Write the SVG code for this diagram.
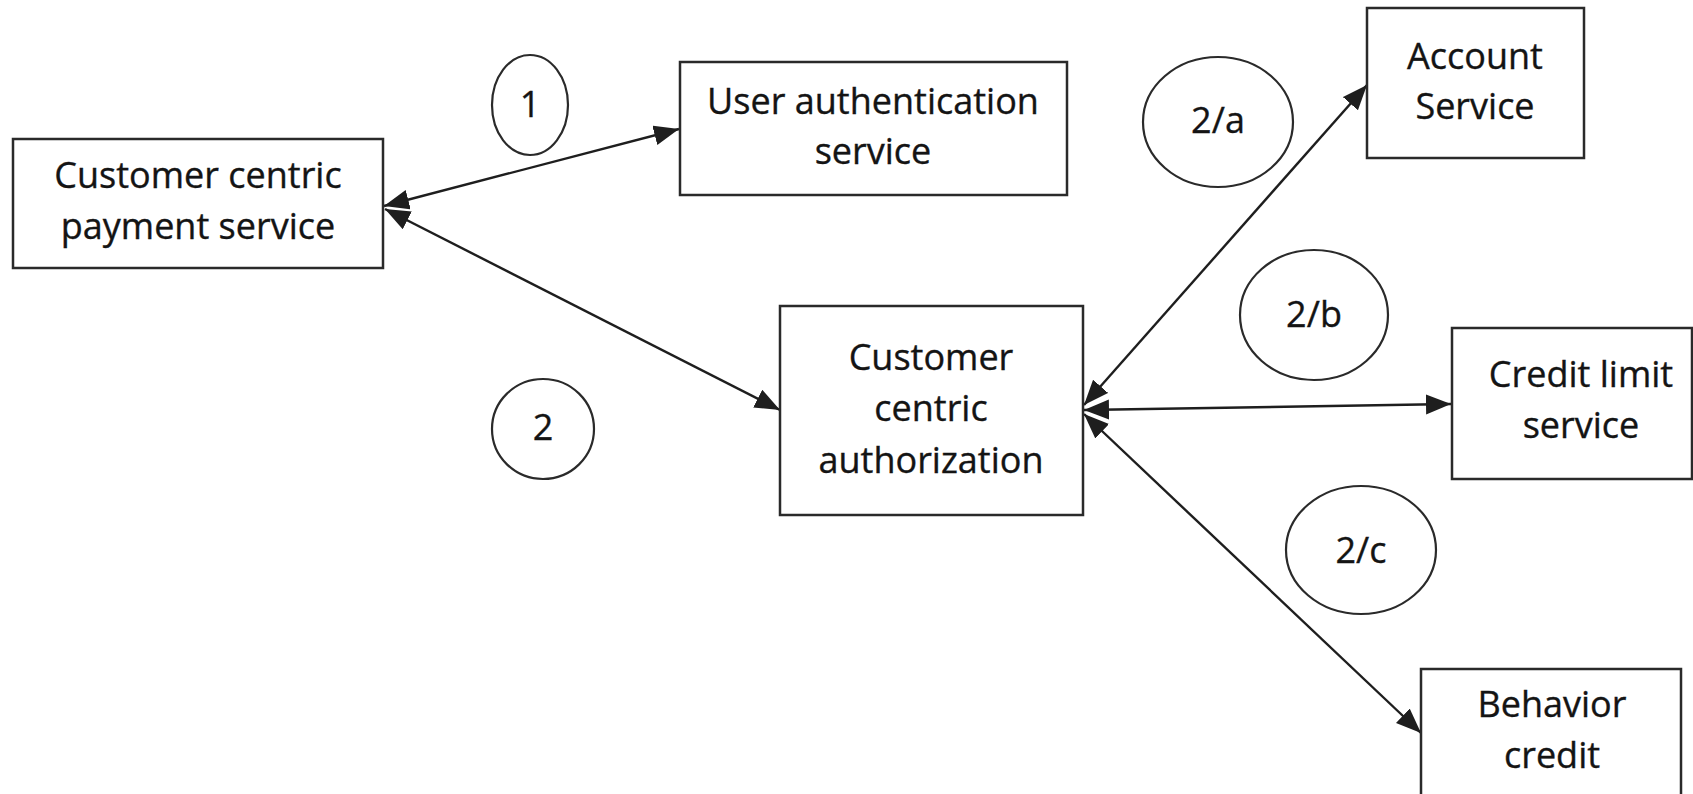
<svg xmlns="http://www.w3.org/2000/svg" width="1693" height="794" viewBox="0 0 1693 794">
  <style>
    .box { fill: #ffffff; stroke: #2a2a2a; stroke-width: 2.5; }
    .tag { fill: none; stroke: #2a2a2a; stroke-width: 2.2; }
    .label { font-family: "Open Sans", "Noto Sans", sans-serif; font-size: 36px; fill: #141414; stroke: #141414; stroke-width: 0.35; text-anchor: middle; }
    .link { stroke: #1e1e1e; stroke-width: 2.4; fill: none; marker-start: url(#head); marker-end: url(#head); }
  </style>
  <defs>
    <!-- filled triangular head, reused at both ends of every link -->
    <marker id="head" markerUnits="userSpaceOnUse" markerWidth="28" markerHeight="22" refX="25" refY="10" orient="auto-start-reverse" viewBox="0 0 28 22">
      <path d="M0,0 L25,10 L0,20 z" fill="#1e1e1e"/>
    </marker>
  </defs>
  <rect width="1693" height="794" fill="#ffffff"/>

  <!-- connectors -->
  <g id="connectors">
    <line class="link" x1="384" y1="206" x2="679" y2="129"/>
    <line class="link" x1="385" y1="209" x2="780" y2="410"/>
    <line class="link" x1="1084" y1="405" x2="1367" y2="85"/>
    <line class="link" x1="1084" y1="410" x2="1451" y2="404"/>
    <line class="link" x1="1084" y1="414" x2="1421" y2="733"/>
  </g>

  <!-- step markers -->
  <g id="step-1">
    <ellipse class="tag" cx="530" cy="105" rx="38" ry="50"/>
    <text class="label" x="530" y="117">1</text>
  </g>
  <g id="step-2">
    <ellipse class="tag" cx="543" cy="429" rx="51" ry="50"/>
    <text class="label" x="543" y="440">2</text>
  </g>
  <g id="step-2a">
    <ellipse class="tag" cx="1218" cy="122" rx="75" ry="65"/>
    <text class="label" x="1218" y="133">2/a</text>
  </g>
  <g id="step-2b">
    <ellipse class="tag" cx="1314" cy="315" rx="74" ry="65"/>
    <text class="label" x="1314" y="327">2/b</text>
  </g>
  <g id="step-2c">
    <ellipse class="tag" cx="1361" cy="550" rx="75" ry="64"/>
    <text class="label" x="1361" y="563">2/c</text>
  </g>

  <!-- services -->
  <g id="payment-service">
    <rect class="box" x="13" y="139" width="370" height="129"/>
    <text class="label" x="198" y="188">Customer centric</text>
    <text class="label" x="198" y="239">payment service</text>
  </g>
  <g id="user-authentication">
    <rect class="box" x="680" y="62" width="387" height="133"/>
    <text class="label" x="873" y="114">User authentication</text>
    <text class="label" x="873" y="164">service</text>
  </g>
  <g id="authorization">
    <rect class="box" x="780" y="306" width="303" height="209"/>
    <text class="label" x="931" y="370">Customer</text>
    <text class="label" x="931" y="421">centric</text>
    <text class="label" x="931" y="473">authorization</text>
  </g>
  <g id="account-service">
    <rect class="box" x="1367" y="8" width="217" height="150"/>
    <text class="label" x="1475" y="69">Account</text>
    <text class="label" x="1475" y="119">Service</text>
  </g>
  <g id="credit-limit">
    <rect class="box" x="1452" y="328" width="240" height="151"/>
    <text class="label" x="1581" y="387">Credit limit</text>
    <text class="label" x="1581" y="438">service</text>
  </g>
  <g id="behavior-credit">
    <rect class="box" x="1421" y="669" width="260" height="140"/>
    <text class="label" x="1552" y="717">Behavior</text>
    <text class="label" x="1552" y="768">credit</text>
  </g>
</svg>
